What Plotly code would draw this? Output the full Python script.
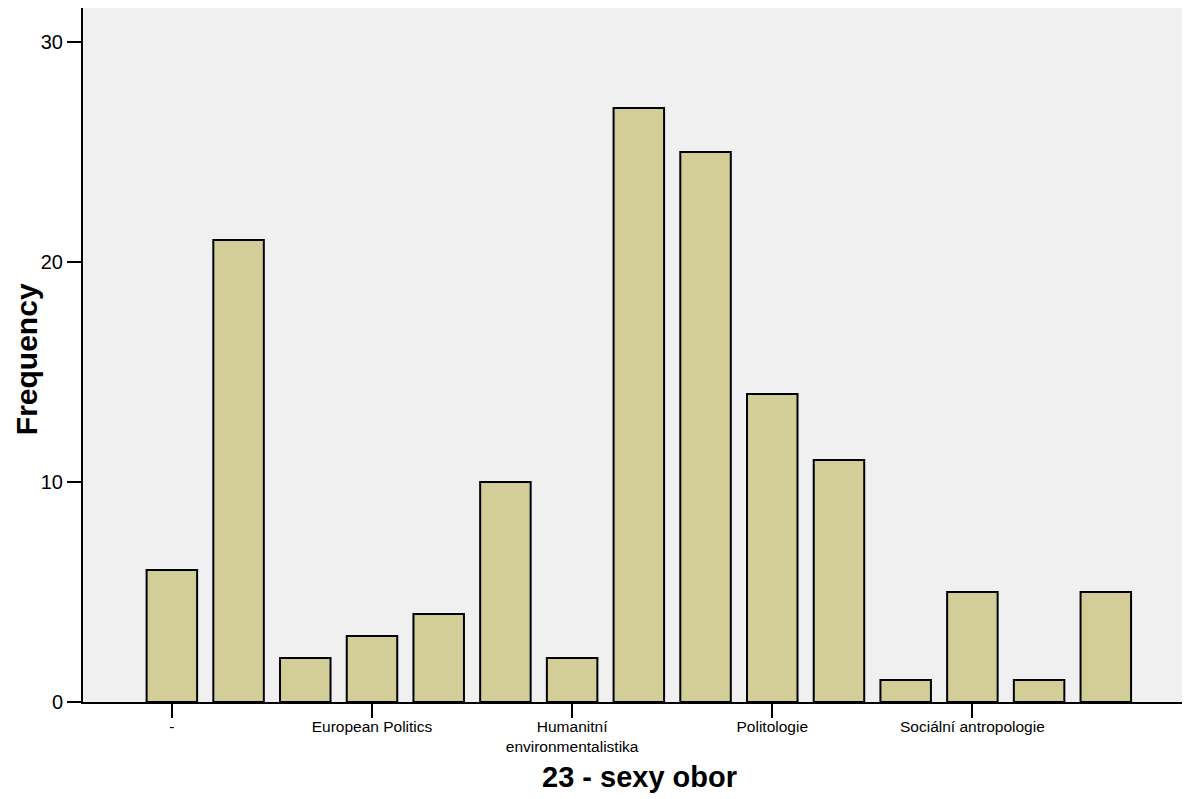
import plotly.graph_objects as go

# Data
bar_index = list(range(15))
frequency = [6, 21, 2, 3, 4, 10, 2, 27, 25, 14, 11, 1, 5, 1, 5]
tick_index = [0, 3, 6, 9, 12]
tick_labels = ["-", "European Politics", "Humanitní<br>environmentalistika",
               "Politologie", "Sociální antropologie"]
y_ticks = [0, 10, 20, 30]
x_title = "23 - sexy obor"
y_title = "Frequency"

FONT = "Liberation Sans, Arial, sans-serif"

# page body has an 8px default margin, so the figure is 8px smaller each way
fig = go.Figure(
    go.Bar(
        x=bar_index,
        y=frequency,
        width=0.757,
        marker=dict(color="#D3CE97", line=dict(color="black", width=2)),
        hoverinfo="x+y",
    )
)

fig.update_layout(
    width=1182,
    height=791,
    margin=dict(l=75, r=0, t=0, b=97, autoexpand=False),
    paper_bgcolor="white",
    plot_bgcolor="#F0F0F0",
    showlegend=False,
    font=dict(family=FONT, color="black"),
)

fig.update_xaxes(
    range=[-1.332, 15.262],
    tickmode="array",
    tickvals=tick_index,
    ticktext=tick_labels,
    ticks="outside",
    ticklen=14,
    tickwidth=2,
    tickcolor="black",
    tickfont=dict(size=15.5, family=FONT),
    ticklabelstandoff=-5,
    showline=True,
    linecolor="black",
    linewidth=2,
    mirror=True,
    showgrid=False,
    zeroline=False,
    automargin=False,
)

fig.update_yaxes(
    range=[0, 31.545],
    tickvals=y_ticks,
    ticks="outside",
    ticklen=14,
    tickwidth=2,
    tickcolor="black",
    tickfont=dict(size=20, family=FONT),
    showline=True,
    linecolor="black",
    linewidth=2,
    showgrid=False,
    zeroline=False,
    automargin=False,
)

fig.add_annotation(
    text=x_title, xref="paper", yref="paper", x=0.503, y=-0.108,
    xanchor="center", yanchor="middle", showarrow=False,
    font=dict(size=29, family=FONT, weight="bold", color="black"),
)
fig.add_annotation(
    text=y_title, xref="paper", yref="paper", x=-0.0515, y=0.494,
    xanchor="center", yanchor="middle", showarrow=False, textangle=-90,
    font=dict(size=30, family=FONT, weight="bold", color="black"),
)

fig.write_html("out.html")
